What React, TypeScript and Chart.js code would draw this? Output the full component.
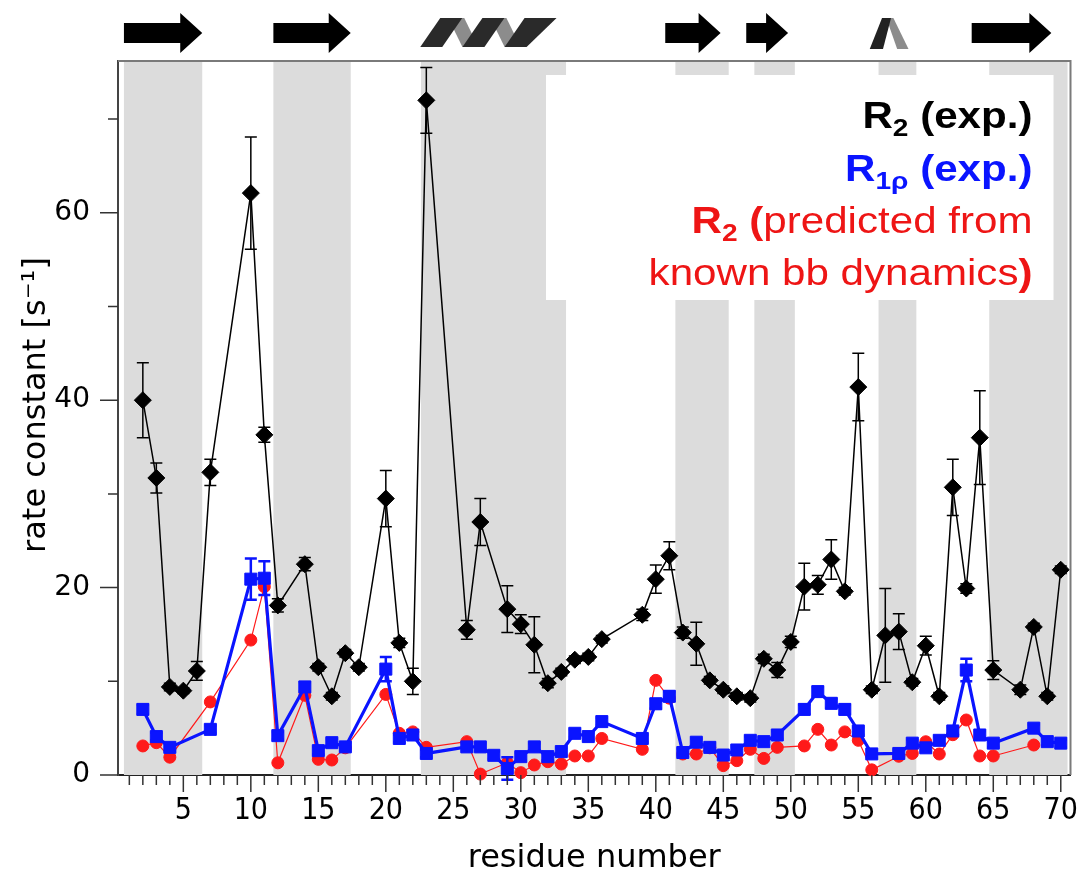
import React, { useEffect, useRef } from 'react';
import { Chart, registerables } from 'chart.js';

Chart.register(...registerables);

// ---------- data ----------
const r2Res = [2, 3, 4, 5, 6, 7, 10, 11, 12, 14, 15, 16, 17, 18, 20, 21, 22, 23, 26, 27, 29, 30, 31, 32, 33, 34, 35, 36, 39, 40, 41, 42, 43, 44, 45, 46, 47, 48, 49, 50, 51, 52, 53, 54, 55, 56, 57, 58, 59, 60, 61, 62, 63, 64, 65, 67, 68, 69, 70];
const r2Val = [40.0, 31.7, 9.4, 9.0, 11.1, 32.3, 62.1, 36.3, 18.1, 22.5, 11.5, 8.4, 13.0, 11.5, 29.5, 14.1, 10.0, 72.0, 15.5, 27.0, 17.7, 16.1, 13.9, 9.8, 11.0, 12.3, 12.6, 14.5, 17.1, 20.9, 23.4, 15.2, 14.0, 10.1, 9.1, 8.4, 8.2, 12.4, 11.2, 14.2, 20.1, 20.3, 23.0, 19.6, 41.4, 9.1, 14.9, 15.3, 9.9, 13.8, 8.4, 30.7, 19.9, 36.0, 11.2, 9.1, 15.8, 8.4, 21.9];
const r2Err = [4.0, 1.6, 0.4, 0.3, 1.0, 1.4, 6.0, 0.8, 0.7, 0.7, 0.4, 0.4, 0.4, 0.4, 3.0, 0.5, 1.4, 3.5, 1.0, 2.5, 2.5, 1.0, 3.0, 0.5, 0.4, 0.4, 0.4, 0.4, 0.6, 1.5, 1.5, 0.6, 2.3, 0.4, 0.4, 0.4, 0.4, 0.5, 0.8, 0.6, 2.5, 1.0, 2.1, 0.4, 3.6, 0.4, 5.0, 1.9, 0.4, 1.0, 0.4, 3.0, 0.5, 5.0, 1.0, 0.5, 0.4, 0.4, 0.4];

const r1pRes = [2, 3, 4, 7, 10, 11, 12, 14, 15, 16, 17, 20, 21, 22, 23, 26, 27, 28, 29, 30, 31, 32, 33, 34, 35, 36, 39, 40, 41, 42, 43, 44, 45, 46, 47, 48, 49, 51, 52, 53, 54, 55, 56, 58, 59, 60, 61, 62, 63, 64, 65, 68, 69, 70];
const r1pVal = [7.0, 4.1, 2.95, 4.87, 20.9, 21.0, 4.2, 9.4, 2.6, 3.45, 3.0, 11.3, 3.9, 4.27, 2.3, 3.0, 3.0, 2.1, 0.7, 1.96, 3.0, 1.96, 2.5, 4.45, 4.1, 5.7, 3.9, 7.6, 8.4, 2.4, 3.5, 2.95, 2.13, 2.67, 3.7, 3.56, 4.27, 7.0, 8.9, 7.65, 7.0, 4.7, 2.25, 2.3, 3.4, 2.9, 3.7, 4.7, 11.2, 4.27, 3.4, 5.0, 3.56, 3.4];
const r1pErr = [0.5, 0.4, 0.4, 0.4, 2.2, 1.8, 0.4, 0.5, 0.4, 0.4, 0.4, 1.3, 0.4, 0.4, 0.4, 0.4, 0.4, 0.4, 1.2, 0.4, 0.4, 0.4, 0.4, 0.4, 0.4, 0.4, 0.4, 0.5, 0.5, 0.4, 0.4, 0.4, 0.4, 0.4, 0.4, 0.4, 0.4, 0.5, 0.5, 0.5, 0.5, 0.4, 0.4, 0.4, 0.4, 0.4, 0.4, 0.4, 1.2, 0.4, 0.4, 0.4, 0.4, 0.4];

const predRes = [2, 3, 4, 7, 10, 11, 12, 14, 15, 16, 17, 20, 21, 22, 23, 26, 27, 29, 30, 31, 32, 33, 34, 35, 36, 39, 40, 41, 42, 43, 44, 45, 46, 47, 48, 49, 51, 52, 53, 54, 55, 56, 58, 59, 60, 61, 62, 63, 64, 65, 68];
const predVal = [3.1, 3.45, 1.9, 7.8, 14.4, 20.1, 1.3, 8.5, 1.67, 1.6, 2.9, 8.6, 4.45, 4.6, 2.95, 3.56, 0.1, 1.3, 0.25, 1.07, 1.42, 1.17, 2.03, 2.03, 3.9, 2.74, 10.1, 8.2, 2.24, 2.24, 2.9, 1.0, 1.53, 2.74, 1.77, 2.95, 3.1, 4.87, 3.2, 4.6, 3.7, 0.55, 2.0, 2.3, 3.55, 2.24, 4.3, 5.87, 2.03, 2.03, 3.2];

const xTickValues = [5, 10, 15, 20, 25, 30, 35, 40, 45, 50, 55, 60, 65, 70];
const yTickValues = [0, 20, 40, 60];

// secondary-structure regions (residue units)
const shadedBands = [[0.6, 6.4], [11.67, 17.4], [22.6, 33.35], [41.45, 45.4], [47.3, 50.3], [56.5, 59.3], [64.7, 70.5]];
const strandArrows = [[0.6, 6.4], [11.67, 17.4], [40.7, 44.8], [46.7, 49.8], [63.4, 69.3]];
const helixTurns = [[22.55, 32.65, 3], [55.5, 59.0, 1]];

const legendLines = [
  { color: '#000000', runs: [['R', 'b'], ['2', 's'], [' (exp.)', 'b']] },
  { color: '#0a14ff', runs: [['R', 'b'], ['1ρ', 's'], [' (exp.)', 'b']] },
  { color: '#ee1515', runs: [['R', 'b'], ['2', 's'], [' (', 'b'], ['predicted from', 'n']] },
  { color: '#ee1515', runs: [['known bb dynamics', 'n'], [')', 'b']] },
];

const BLACK = '#000000';
const BLUE = '#0a14ff';
const RED = '#ff1a1a';

const pts = (res: number[], val: number[]) => res.map((r, i) => ({ x: r, y: val[i] }));

const LEG_FONT: Record<string, string> = {
  b: 'bold 36px "Liberation Sans", Arial, sans-serif',
  s: 'bold 24px "Liberation Sans", Arial, sans-serif',
  n: '36px "Liberation Sans", Arial, sans-serif',
};

function drawErrorBars(chart: any, res: number[], val: number[], err: number[], color: string, lw: number) {
  const { ctx, scales } = chart;
  const xs = scales.x, ys = scales.y;
  ctx.save();
  ctx.strokeStyle = color;
  ctx.lineWidth = lw;
  res.forEach((r, i) => {
    const px = xs.getPixelForValue(r);
    const top = ys.getPixelForValue(val[i] + err[i]);
    const bot = ys.getPixelForValue(val[i] - err[i]);
    ctx.beginPath();
    ctx.moveTo(px, top); ctx.lineTo(px, bot);
    ctx.moveTo(px - 6, top); ctx.lineTo(px + 6, top);
    ctx.moveTo(px - 6, bot); ctx.lineTo(px + 6, bot);
    ctx.stroke();
  });
  ctx.restore();
}

const decorPlugin = {
  id: 'decor',
  beforeDatasetsDraw(chart: any) {
    const { ctx, chartArea: a, scales } = chart;
    const xs = scales.x;
    ctx.save();
    // shaded bands
    ctx.fillStyle = '#dcdcdc';
    shadedBands.forEach(([s, e]) => {
      const x0 = xs.getPixelForValue(s), x1 = xs.getPixelForValue(e);
      ctx.fillRect(x0, a.top, x1 - x0, a.bottom - a.top);
    });
    // legend box
    const bx0 = a.left + 428, bx1 = a.right - 17, by0 = a.top + 14, by1 = a.top + 239;
    ctx.fillStyle = '#ffffff';
    ctx.fillRect(bx0, by0, bx1 - bx0, by1 - by0);
    // legend text (right aligned)
    const rightX = a.right - 38;
    const baselines = [a.top + 67, a.top + 120, a.top + 172, a.top + 224];
    const sx = 1.17;
    ctx.textBaseline = 'alphabetic';
    ctx.textAlign = 'left';
    legendLines.forEach((line, li) => {
      let total = 0;
      const widths = line.runs.map(([t, f]) => { ctx.font = LEG_FONT[f]; const w = ctx.measureText(t).width * sx; total += w; return w; });
      let x = rightX - total;
      line.runs.forEach(([t, f], i) => {
        ctx.font = LEG_FONT[f];
        ctx.fillStyle = line.color;
        ctx.save();
        ctx.translate(x, baselines[li] + (f === 's' ? 8 : 0));
        ctx.scale(sx, 1);
        ctx.fillText(t, 0, 0);
        ctx.restore();
        x += widths[i];
      });
    });
    ctx.restore();
  },
  beforeDatasetDraw(chart: any, args: any) {
    if (args.index === 0) drawErrorBars(chart, r2Res, r2Val, r2Err, BLACK, 1.5);
    if (args.index === 1) drawErrorBars(chart, r1pRes, r1pVal, r1pErr, BLUE, 2.5);
  },
  afterDraw(chart: any) {
    const { ctx, chartArea: a, scales } = chart;
    const xs = scales.x, ys = scales.y;
    ctx.save();
    // top & right frame
    ctx.strokeStyle = '#7a7a7a';
    ctx.lineWidth = 2;
    ctx.beginPath();
    ctx.moveTo(a.left, a.top); ctx.lineTo(a.right, a.top); ctx.lineTo(a.right, a.bottom);
    ctx.stroke();
    // x ticks (every residue, long every 5)
    ctx.strokeStyle = '#333';
    ctx.lineWidth = 1.5;
    ctx.beginPath();
    for (let v = 1; v <= 70; v++) {
      const px = xs.getPixelForValue(v);
      ctx.moveTo(px, a.bottom);
      ctx.lineTo(px, a.bottom + (v % 5 === 0 ? 17 : 10));
    }
    // y ticks (every 10, long every 20)
    for (let v = 0; v <= 70; v += 10) {
      const py = ys.getPixelForValue(v);
      ctx.moveTo(a.left, py);
      ctx.lineTo(a.left - (v % 20 === 0 ? 18 : 10), py);
    }
    ctx.stroke();
    // y title
    ctx.fillStyle = '#000';
    ctx.font = '32px "DejaVu Sans", sans-serif';
    ctx.textAlign = 'center';
    ctx.textBaseline = 'middle';
    ctx.save();
    ctx.translate(37, 405);
    ctx.rotate(-Math.PI / 2);
    ctx.fillText('rate constant [s⁻¹]', 0, 0);
    ctx.restore();

    // secondary structure glyphs
    const aTop = a.top;
    ctx.fillStyle = '#000';
    strandArrows.forEach(([s, e]) => {
      const x0 = xs.getPixelForValue(s), x1 = xs.getPixelForValue(e);
      const hx = x1 - 22;
      ctx.beginPath();
      ctx.moveTo(x0, aTop - 38);
      ctx.lineTo(hx, aTop - 38);
      ctx.lineTo(hx, aTop - 48);
      ctx.lineTo(x1, aTop - 28);
      ctx.lineTo(hx, aTop - 8);
      ctx.lineTo(hx, aTop - 18);
      ctx.lineTo(x0, aTop - 18);
      ctx.closePath();
      ctx.fill();
    });
    helixTurns.forEach(([s, e, n]) => {
      const x0 = xs.getPixelForValue(s), x1 = xs.getPixelForValue(e);
      if (n === 1) {
        const top = aTop - 43, bot = aTop - 12;
        const w = x1 - x0;
        ctx.fillStyle = '#8c8c8c';
        ctx.beginPath();
        ctx.moveTo(x0 + w * 0.45, top); ctx.lineTo(x0 + w * 0.6, top);
        ctx.lineTo(x0 + w * 0.92, bot); ctx.lineTo(x0 + w * 0.68, bot);
        ctx.closePath(); ctx.fill();
        ctx.fillStyle = '#222';
        ctx.beginPath();
        ctx.moveTo(x0 + w * 0.1, bot); ctx.lineTo(x0 + w * 0.38, bot);
        ctx.lineTo(x0 + w * 0.55, top); ctx.lineTo(x0 + w * 0.36, top);
        ctx.closePath(); ctx.fill();
      } else {
        const top = aTop - 43, bot = aTop - 14;
        const sw = 22, sl = 20;
        const p = (x1 - x0 - sw - sl - 10) / (n - 1);
        ctx.fillStyle = '#8c8c8c';
        for (let i = 0; i < n - 1; i++) {
          const b = x0 + i * p;
          ctx.beginPath();
          ctx.moveTo(b + sl + sw - 14, top);
          ctx.lineTo(b + sl + sw + 2, top);
          ctx.lineTo(b + p + 16, bot);
          ctx.lineTo(b + p, bot);
          ctx.closePath(); ctx.fill();
        }
        ctx.fillStyle = '#2a2a2a';
        for (let i = 0; i < n; i++) {
          const b = x0 + i * p;
          const extra = i === n - 1 ? 10 : 0;
          ctx.beginPath();
          ctx.moveTo(b, bot);
          ctx.lineTo(b + sw, bot);
          ctx.lineTo(b + sw + sl + extra, top);
          ctx.lineTo(b + sl, top);
          ctx.closePath(); ctx.fill();
        }
      }
    });
    ctx.restore();
  },
};

export default function App() {
  const ref = useRef<HTMLCanvasElement>(null);
  useEffect(() => {
    if (!ref.current) return;
    const chart = new Chart(ref.current, {
      type: 'line',
      data: {
        datasets: [
          {
            label: 'R2 (exp.)',
            data: pts(r2Res, r2Val),
            borderColor: BLACK,
            backgroundColor: BLACK,
            borderWidth: 1.5,
            pointStyle: 'rectRot',
            pointRadius: 8.5,
            pointBorderWidth: 1,
            tension: 0,
            clip: false as any,
          },
          {
            label: 'R1ρ (exp.)',
            data: pts(r1pRes, r1pVal),
            borderColor: BLUE,
            backgroundColor: BLUE,
            borderWidth: 3.2,
            pointStyle: 'rect',
            pointRadius: 8.5,
            pointBorderWidth: 1,
            tension: 0,
            clip: false as any,
          },
          {
            label: 'R2 (predicted)',
            data: pts(predRes, predVal),
            borderColor: RED,
            backgroundColor: RED,
            borderWidth: 1.2,
            pointStyle: 'circle',
            pointRadius: 6,
            pointBorderWidth: 1,
            tension: 0,
            clip: false as any,
          },
        ],
      },
      options: {
        animation: false,
        responsive: false,
        events: [],
        layout: { padding: { left: 0, right: 5, top: 61, bottom: 0 } },
        plugins: { legend: { display: false }, tooltip: { enabled: false } },
        scales: {
          x: {
            type: 'linear',
            min: 0.16,
            max: 70.72,
            afterBuildTicks: (s: any) => { s.ticks = xTickValues.map((v) => ({ value: v })); },
            afterFit: (s: any) => { s.height = 104; s.paddingLeft = 0; s.paddingRight = 0; },
            grid: { display: false, drawTicks: false },
            border: { display: true, color: '#222', width: 2 },
            ticks: {
              padding: 18,
              autoSkip: false,
              maxRotation: 0,
              color: '#000',
              font: { family: '"Liberation Sans Narrow", "DejaVu Sans Condensed", sans-serif', size: 30 },
            },
            title: {
              display: true,
              text: 'residue number',
              color: '#000',
              font: { family: '"DejaVu Sans", sans-serif', size: 32 },
              padding: { top: 0, bottom: 1 },
            },
          },
          y: {
            type: 'linear',
            min: 0,
            max: 76.2,
            afterBuildTicks: (s: any) => { s.ticks = yTickValues.map((v) => ({ value: v })); },
            afterFit: (s: any) => { s.width = 118; s.paddingTop = 0; s.paddingBottom = 0; },
            grid: { display: false, drawTicks: false },
            border: { display: true, color: '#444', width: 2 },
            ticks: {
              padding: 28,
              color: '#000',
              font: { family: '"DejaVu Sans", sans-serif', size: 28 },
            },
          },
        },
      },
      plugins: [decorPlugin],
    } as any);
    return () => chart.destroy();
  }, []);
  return (
    <div style={{ position: 'absolute', left: 0, top: 0, width: 1080, height: 879 }}>
      <canvas ref={ref} width={1080} height={879} style={{ display: 'block', width: 1080, height: 879 }} />
    </div>
  );
}
